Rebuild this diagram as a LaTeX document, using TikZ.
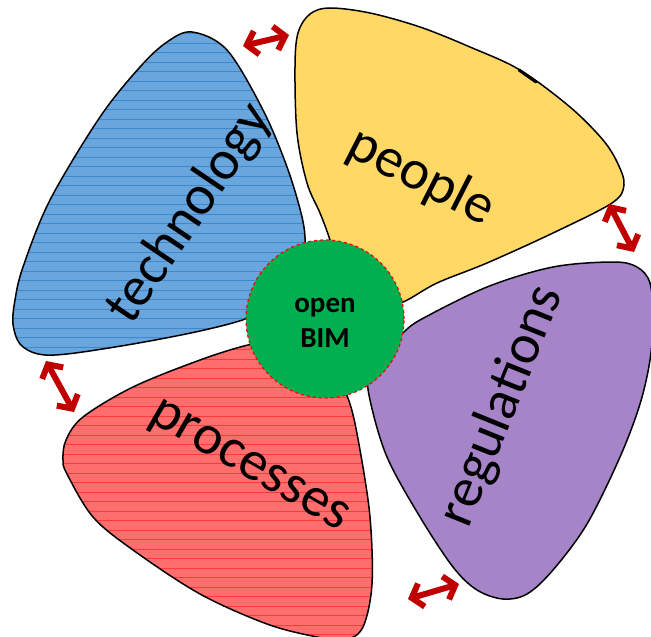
\documentclass[tikz,border=0pt]{standalone}
\usepackage{fontspec}
\setmainfont{Carlito}
\usetikzlibrary{arrows.meta}
\definecolor{techblue}{HTML}{6AA6DE}
\definecolor{techline}{HTML}{3F88CC}
\definecolor{peopleyellow}{HTML}{FFD866}
\definecolor{regpurple}{HTML}{A684C8}
\definecolor{procred}{HTML}{FF6E6E}
\definecolor{procline}{HTML}{FF3838}
\definecolor{bimgreen}{HTML}{00B050}
\definecolor{arrowred}{HTML}{C00000}
\tikzset{
  petal/.style={draw=black, line width=1.5pt},
  lbl/.style={font=\fontsize{56}{60}\selectfont, inner sep=0pt},
  dblarrow/.style={draw=arrowred, line width=6pt,
    {Straight Barb[length=10pt,width=24pt]}-{Straight Barb[length=10pt,width=24pt]}},
}
\begin{document}
\begin{tikzpicture}[x=1pt,y=-1pt]
\useasboundingbox (0,0) rectangle (651,637);

% technology (blue)
\draw[petal, fill=techblue, path picture={
    \foreach \yy in {24,33.5,...,370} \draw[techline, line width=0.9pt] (0,\yy) -- (651,\yy);}]
  plot[smooth cycle, tension=0.55] coordinates {
  (192,32) (227,50) (263,110) (287,167) (302,217) (305,245) (300,275) (280,300)
  (248,318) (200,331) (133,344) (67,354) (38,354) (20,344) (13,324) (15,300)
  (23,267) (50,200) (100,117) (140,67) (167,42)};

% people (yellow)
\draw[petal, fill=peopleyellow]
  plot[smooth cycle, tension=0.55] coordinates {
  (330,8) (370,13) (420,27) (470,47) (520,70) (570,107) (603,140) (618,164)
  (624,185) (612,203) (553,233) (487,263) (437,283) (403,302) (375,308) (345,290)
  (330,240) (320,213) (307,183) (297,133) (295,67) (298,33) (310,14)};
\draw[line width=3pt, line cap=round] (519,70) -- (536,82);

% regulations (purple)
\draw[petal, fill=regpurple]
  plot[smooth cycle, tension=0.55] coordinates {
  (400,335) (420,320) (487,287) (553,267) (613,262) (637,267) (650,283) (653,320)
  (650,360) (640,404) (620,457) (587,524) (553,570) (527,594) (503,599) (477,590)
  (453,567) (420,517) (387,457) (370,400) (368,370) (380,345)};

% processes (red)
\draw[petal, fill=procred, path picture={
    \foreach \yy in {340,349.5,...,645} \draw[procline, line width=0.9pt] (0,\yy) -- (651,\yy);}]
  plot[smooth cycle, tension=0.55] coordinates {
  (248,345) (200,360) (133,387) (83,417) (66,440) (63,460) (67,474) (93,517)
  (133,550) (200,594) (267,624) (317,637) (345,640) (363,627) (372,584) (370,517)
  (360,450) (350,404) (335,375) (300,350) (270,344)};

% labels
\node[lbl, rotate=56] (tech) at (190,214) {technology};
\node[lbl, rotate=-27] (people) at (421,177) {people};
\node[lbl, rotate=68] (reg) at (502,406) {regulations};
\node[lbl, rotate=-30] (proc) at (248,468) {processes};

% centre
\node[circle, fill=bimgreen, draw=red, dashed, line width=1.2pt, minimum size=158pt] (bim) at (325,319) {};
\node[align=center, font=\fontsize{29}{35}\selectfont\bfseries] (bimtext) at (325,323) {open\\BIM};

% arrows
\coordinate (a1s) at (243,46);  \coordinate (a1e) at (289,35);
\coordinate (a2s) at (609,204); \coordinate (a2e) at (634,252);
\coordinate (a3s) at (46,361);  \coordinate (a3e) at (74,412);
\coordinate (a4s) at (408,599); \coordinate (a4e) at (459,584);
\draw[dblarrow] (a1s) -- (a1e);
\draw[dblarrow] (a2s) -- (a2e);
\draw[dblarrow] (a3s) -- (a3e);
\draw[dblarrow] (a4s) -- (a4e);
\end{tikzpicture}
\end{document}
